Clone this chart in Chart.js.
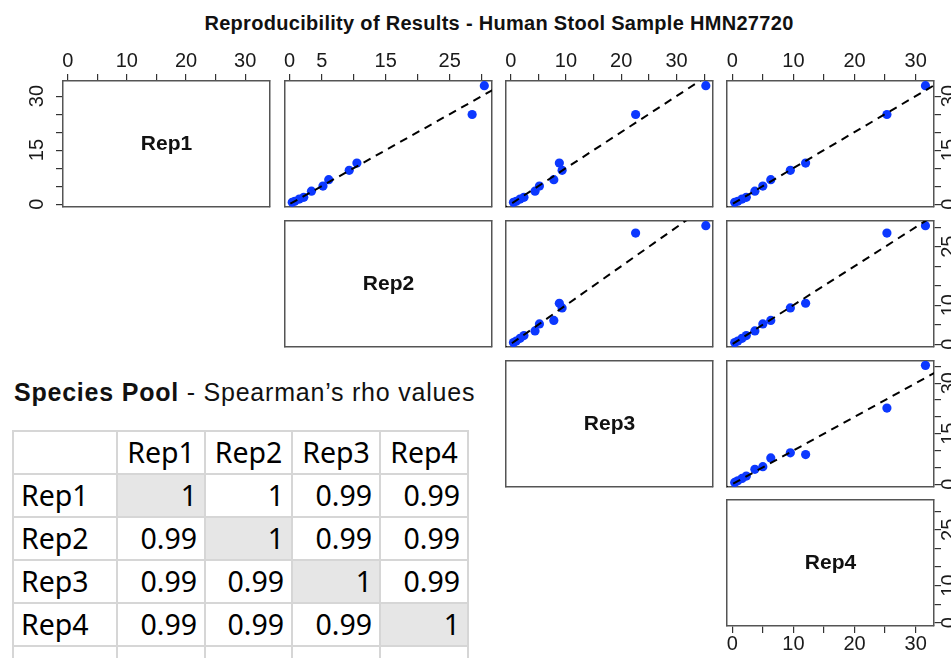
<!DOCTYPE html>
<html>
<head>
<meta charset="utf-8">
<script src="https://cdn.jsdelivr.net/npm/chart.js@4.4.1/dist/chart.umd.min.js"></script>
<style>
  html, body { margin: 0; padding: 0; width: 951px; height: 658px; overflow: hidden; background: #fff; }
  #title { position: absolute; left: 0; width: 998px; top: 12px; text-align: center; letter-spacing: 0.3px;
           font: bold 20px "Liberation Sans", Arial, sans-serif; color: #111; }
  #subtitle { position: absolute; left: 14px; top: 378px; font: 25px "Liberation Sans", Arial, sans-serif;
              letter-spacing: 0.78px; color: #111; white-space: nowrap; }
  #subtitle b { font-weight: bold; }
  canvas { position: absolute; }
  #rho { position: absolute; left: 12px; top: 430px; border-collapse: collapse; table-layout: fixed;
         font: 28.5px "Noto Sans", sans-serif; color: #000; }
  #rho td { border: 2.5px solid #d6d6d6; padding: 0 7px; height: 41px; line-height: 41px; overflow: hidden; white-space: nowrap; }
  #rho td.num { text-align: right; }
  #rho td.head { text-align: center; padding: 0; }
  #rho td.diag { background: #e6e6e6; }
</style>
</head>
<body>
<div id="title">Reproducibility of Results - Human Stool Sample HMN27720</div>
<div id="subtitle"><b>Species Pool</b> - Spearman’s rho values</div>
<table id="rho"></table>
<script>
// species abundances per replicate
const reps = ['Rep1', 'Rep2', 'Rep3', 'Rep4'];
const rep1 = [32.9, 24.9, 11.4, 9.4, 6.8, 5.0, 3.6, 1.9, 1.4, 0.8, 0.5];
const rep2 = [30.4, 28.5, 10.5, 9.3, 6.1, 5.2, 3.4, 2.2, 1.5, 0.8, 0.4];
const rep3 = [35.3, 22.6, 8.8, 9.3, 7.8, 5.2, 4.4, 2.4, 1.7, 1.0, 0.5];
const rep4 = [31.6, 25.3, 12.0, 9.5, 6.3, 5.0, 3.7, 2.3, 1.6, 0.9, 0.4];
const repValues = [rep1, rep2, rep3, rep4];

// axis ranges and labelled ticks
const axisMin = [-0.8, -0.73, -0.85, -0.86];
const axisMax = [34.2, 31.6, 36.6, 33.0];
const tickStep = 5;
const xTickLabels = [[0, 10, 20, 30], [0, 5, 15, 25], [0, 10, 20, 30], [0, 10, 20, 30]];
const yTickLabels = [[0, 15, 30], [0, 10, 25], [0, 15, 30], [0, 10, 25]];

// spearman table
const rhoRows = [
  [1, 1, 0.99, 0.99],
  [0.99, 1, 0.99, 0.99],
  [0.99, 0.99, 1, 0.99],
  [0.99, 0.99, 0.99, 1]
];

const colLeft = [63, 285, 506, 727];
const rowTop = [81, 221, 361, 500];
const PW = 207, PH = 126, M = 48;
const FONT = 'Liberation Sans, Arial, sans-serif';

function makeAxis(k, horizontal, position, show) {
  const labels = horizontal ? xTickLabels[k] : yTickLabels[k];
  let pad;
  if (horizontal) pad = position === 'top' ? 1 : -1;
  else pad = position === 'left' ? 7 : -3;
  return {
    type: 'linear',
    position: position,
    min: axisMin[k],
    max: axisMax[k],
    afterBuildTicks: s => {
      const t = [];
      for (let v = 0; v <= axisMax[k]; v += tickStep) t.push({ value: v });
      s.ticks = t;
    },
    afterFit: s => { if (horizontal) s.height = M; else s.width = M; },
    border: { display: true, color: '#555', width: 1.5 },
    grid: { display: show, drawOnChartArea: false, drawTicks: true, tickLength: 7, color: '#333', lineWidth: 1.2 },
    ticks: {
      display: show,
      autoSkip: false,
      minRotation: horizontal ? 0 : 90,
      maxRotation: horizontal ? 0 : 90,
      crossAlign: horizontal ? 'near' : 'center',
      padding: pad,
      color: '#1a1a1a',
      font: { family: FONT, size: 20 },
      callback: v => labels.includes(v) ? String(v) : ''
    }
  };
}

const diagLabel = {
  id: 'diagLabel',
  afterDraw(chart, args, opts) {
    if (!opts.text) return;
    const a = chart.chartArea;
    const ctx = chart.ctx;
    ctx.save();
    ctx.font = 'bold 21px ' + FONT;
    ctx.fillStyle = '#111';
    ctx.textAlign = 'center';
    ctx.textBaseline = 'middle';
    ctx.fillText(opts.text, (a.left + a.right) / 2, (a.top + a.bottom) / 2);
    ctx.restore();
  }
};

for (let i = 0; i < 4; i++) {
  for (let j = i; j < 4; j++) {
    const cv = document.createElement('canvas');
    cv.width = PW + 2 * M;
    cv.height = PH + 2 * M;
    cv.style.left = (colLeft[j] - M) + 'px';
    cv.style.top = (rowTop[i] - M) + 'px';
    document.body.appendChild(cv);

    const datasets = [];
    if (i !== j) {
      // y = x reference line across the panel
      const lo = Math.min(axisMin[i], axisMin[j]) - 1;
      const hi = Math.max(axisMax[i], axisMax[j]) + 1;
      datasets.push({
        data: [{ x: lo, y: lo }, { x: hi, y: hi }],
        showLine: true,
        pointRadius: 0,
        borderColor: '#000',
        borderWidth: 2,
        borderDash: [8, 6]
      });
      datasets.push({
        data: repValues[j].map((v, n) => ({ x: v, y: repValues[i][n] })),
        pointRadius: 4.6,
        pointBorderWidth: 0,
        backgroundColor: 'rgb(12, 56, 255)',
        borderColor: 'rgb(12, 56, 255)'
      });
    }

    new Chart(cv.getContext('2d'), {
      type: 'scatter',
      data: { datasets: datasets },
      options: {
        responsive: false,
        animation: false,
        layout: { padding: 0 },
        plugins: {
          legend: { display: false },
          tooltip: { enabled: false },
          diagLabel: { text: i === j ? reps[i] : '' }
        },
        scales: {
          x: makeAxis(j, true, 'top', i === 0),
          x2: makeAxis(j, true, 'bottom', i === 3 && j === 3),
          y: makeAxis(i, false, 'left', i === 0 && j === 0),
          y2: makeAxis(i, false, 'right', j === 3)
        }
      },
      plugins: [diagLabel]
    });
  }
}

// table of rho values
const widths = [104, 88, 87, 88, 88];
const tbl = document.getElementById('rho');
const cg = document.createElement('colgroup');
widths.forEach(w => { const c = document.createElement('col'); c.style.width = w + 'px'; cg.appendChild(c); });
tbl.appendChild(cg);
let html = '<tr><td></td>' + reps.map(r => '<td class="head">' + r + '</td>').join('') + '</tr>';
rhoRows.forEach((row, r) => {
  html += '<tr><td>' + reps[r] + '</td>' +
    row.map((v, c) => '<td class="num' + (r === c ? ' diag' : '') + '">' + v + '</td>').join('') + '</tr>';
});
html += '<tr><td></td><td></td><td></td><td></td><td></td></tr>';
tbl.insertAdjacentHTML('beforeend', html);
</script>
</body>
</html>
